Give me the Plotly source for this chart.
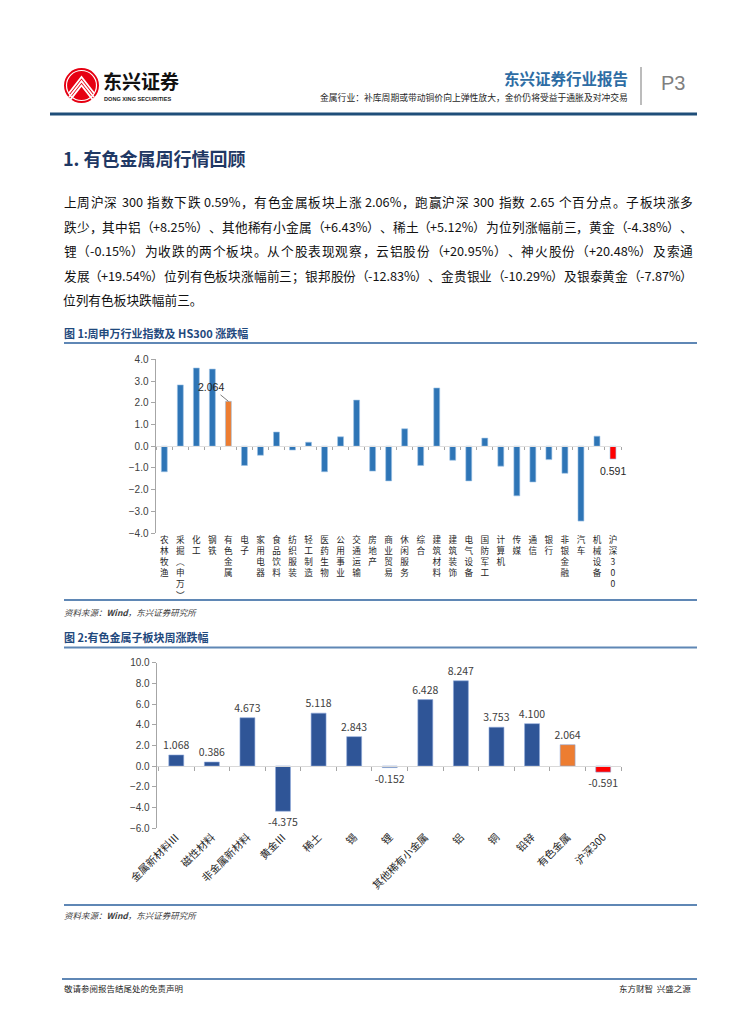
import plotly.graph_objects as go

W, H = 755, 1024

# ---------------- data ----------------
ind_names = ["农林牧渔", "采掘(申万)", "化工", "钢铁", "有色金属", "电子", "家用电器", "食品饮料",
             "纺织服装", "轻工制造", "医药生物", "公用事业", "交通运输", "房地产", "商业贸易",
             "休闲服务", "综合", "建筑材料", "建筑装饰", "电气设备", "国防军工", "计算机", "传媒",
             "通信", "银行", "非银金融", "汽车", "机械设备", "沪深300"]
ind_chg = [-1.18, 2.82, 3.60, 3.55, 2.064, -0.89, -0.42, 0.65, -0.18, 0.18, -1.18, 0.43, 2.12,
           -1.15, -1.60, 0.80, -0.89, 2.68, -0.65, -1.60, 0.37, -0.92, -2.29, -1.65, -0.62,
           -1.25, -3.45, 0.46, -0.591]

sub_names = ["金属新材料Ⅲ", "磁性材料", "非金属新材料", "黄金Ⅲ", "稀土", "锡", "锂",
             "其他稀有小金属", "铝", "铜", "铅锌", "有色金属", "沪深300"]
sub_chg = [1.068, 0.386, 4.673, -4.375, 5.118, 2.843, -0.152, 6.428, 8.247, 3.753, 4.100,
           2.064, -0.591]

y1_ticks = [4, 3, 2, 1, 0, -1, -2, -3, -4]
y2_ticks = [10, 8, 6, 4, 2, 0, -2, -4, -6]

header_title = "东兴证券行业报告"
header_sub = "金属行业：补库周期或带动铜价向上弹性放大，金价仍将受益于通胀及对冲交易"
section_title = "1. 有色金属周行情回顾"
para_lines = [
    "上周沪深 300 指数下跌 0.59%，有色金属板块上涨 2.06%，跑赢沪深 300 指数 2.65 个百分点。子板块涨多",
    "跌少，其中铝（+8.25%）、其他稀有小金属（+6.43%）、稀土（+5.12%）为位列涨幅前三，黄金（-4.38%）、",
    "锂（-0.15%）为收跌的两个板块。从个股表现观察，云铝股份（+20.95%）、神火股份（+20.48%）及索通",
    "发展（+19.54%）位列有色板块涨幅前三；银邦股份（-12.83%）、金贵银业（-10.29%）及银泰黄金（-7.87%）",
    "位列有色板块跌幅前三。",
]
fig1_title = "图 1:周申万行业指数及 HS300 涨跌幅"
fig2_title = "图 2:有色金属子板块周涨跌幅"
source_text = "<i>资料来源：<b>Wind</b>，东兴证券研究所</i>"
footer_left = "敬请参阅报告结尾处的免责声明"
footer_right = "东方财智  兴盛之源"

# ---------------- helpers ----------------
def px(x):
    return x / W

def py(y):
    return 1 - y / H

CJK = "Noto Sans CJK SC"
BLUE1, BLUE2, ORANGE, RED = "#2E75B6", "#2F5597", "#ED7D31", "#FF0000"
HIGHLIGHT, INDEX = "有色金属", "沪深300"


def vert(s):
    s = s.replace("(", "︵").replace(")", "︶")
    return "<br>".join(list(s))


def colors(names, base):
    return [RED if n == INDEX else ORANGE if n == HIGHLIGHT else base for n in names]


annotations = []
shapes = []


def txt(x, y, s, size, color="#000000", anchor="left", family=CJK):
    annotations.append(dict(x=px(x), y=py(y), xref="paper", yref="paper", text=s,
                            showarrow=False, xanchor=anchor, yanchor="middle",
                            font=dict(size=size, color=color, family=family)))


def hline(x0, x1, y, color, width):
    shapes.append(dict(type="line", xref="paper", yref="paper", x0=px(x0), x1=px(x1),
                       y0=py(y), y1=py(y), line=dict(color=color, width=width)))


LATIN_W = {".": 0.27, "%": 0.83, "-": 0.33, "+": 0.55}


def tokens(line):
    out, run = [], ""
    for ch in line:
        if ord(ch) < 128 and ch != " ":
            run += ch
            continue
        if run:
            out.append(run)
            run = ""
        out.append(ch)
    if run:
        out.append(run)
    return out


def tok_width(t, size):
    if t == " ":
        return 0.25 * size
    if ord(t[0]) >= 128:
        return size * 1.0
    return sum(LATIN_W.get(c, 0.55) for c in t) * size


def justified(line, x0, x1, y, size, color):
    toks = tokens(line)
    widths = [tok_width(t, size) for t in toks]
    extra = (x1 - x0 - sum(widths)) / max(len(toks) - 1, 1)
    x = x0
    for t, w in zip(toks, widths):
        if t != " ":
            annotations.append(dict(x=px(x + w / 2), y=py(y), xref="paper", yref="paper",
                                    text=t, showarrow=False, xanchor="center",
                                    yanchor="middle",
                                    font=dict(size=size, color=color, family=CJK)))
        x += w + extra


# ---------------- figure ----------------
fig = go.Figure()

# chart 1
fig.add_trace(go.Scatter(x=ind_names, y=ind_chg, xaxis="x", yaxis="y", mode="markers",
                         marker=dict(opacity=0), hoverinfo="skip", showlegend=False))
fig.add_trace(go.Bar(x=ind_names, y=ind_chg, xaxis="x3", yaxis="y", width=0.37,
                     marker=dict(color=colors(ind_names, BLUE1),
                                 line=dict(width=0.6, color="#9DC3E6")),
                     showlegend=False))
# chart 2
fig.add_trace(go.Scatter(x=sub_names, y=sub_chg, xaxis="x2", yaxis="y2", mode="markers",
                         marker=dict(opacity=0), hoverinfo="skip", showlegend=False))
fig.add_trace(go.Bar(x=sub_names, y=sub_chg, xaxis="x4", yaxis="y2", width=0.42,
                     marker=dict(color=colors(sub_names, BLUE2),
                                 line=dict(width=0.6, color="#8FAADC")),
                     texttemplate="%{y:.3f}", textposition="outside", constraintext="none",
                     cliponaxis=False, textfont=dict(size=10.5, color="#404040", family=CJK),
                     showlegend=False))

c1_x = [px(155.5), px(621)]
c1_y = [py(533), py(359.3)]
c2_x = [px(156.7), px(621)]
c2_y = [py(828), py(662.7)]

yax_common = dict(ticks="outside", ticklen=4, tickcolor="#A6A6A6", showline=True,
                  linecolor="#A6A6A6", linewidth=1, showgrid=False, zeroline=False,
                  tickformat=".1f", tickmode="array",
                  tickfont=dict(size=10, color="#404040", family="Liberation Sans"))

fig.update_layout(
    width=W, height=H, template="none",
    margin=dict(l=0, r=0, t=0, b=0),
    paper_bgcolor="white", plot_bgcolor="rgba(0,0,0,0)",
    font=dict(family=CJK, color="#000000"),
    xaxis=dict(domain=c1_x, anchor="y", type="category", categoryorder="array",
               categoryarray=ind_names, range=[-0.55, len(ind_names) - 0.5],
               tickmode="array", tickvals=ind_names, ticktext=[vert(n) for n in ind_names],
               tickfont=dict(size=8.6, color="#262626", family=CJK), ticks="",
               showline=False, showgrid=False, zeroline=False),
    xaxis3=dict(overlaying="x", anchor="free", position=py(446), type="category",
                categoryorder="array", categoryarray=ind_names,
                range=[-0.55, len(ind_names) - 0.5], showticklabels=False, ticks="outside",
                tickson="boundaries", ticklen=3, tickcolor="#A6A6A6", showline=True,
                linecolor="#E0E0E0", linewidth=1, showgrid=False, zeroline=False),
    yaxis=dict(domain=c1_y, anchor="x", range=[-4, 4], tickvals=y1_ticks, **yax_common),
    xaxis2=dict(domain=c2_x, anchor="y2", type="category", categoryorder="array",
                categoryarray=sub_names, range=[-0.55, len(sub_names) - 0.5],
                tickangle=-45, tickfont=dict(size=10.5, color="#262626", family=CJK),
                ticks="", showline=False, showgrid=False, zeroline=False),
    xaxis4=dict(overlaying="x2", anchor="free", position=py(766), type="category",
                categoryorder="array", categoryarray=sub_names,
                range=[-0.55, len(sub_names) - 0.5], showticklabels=False, ticks="outside",
                tickson="boundaries", ticklen=4, tickcolor="#A6A6A6", showline=True,
                linecolor="#D9D9D9", linewidth=1, showgrid=False, zeroline=False),
    yaxis2=dict(domain=c2_y, anchor="x2", range=[-6, 10], tickvals=y2_ticks, **yax_common),
)

# chart 1 data labels
hi = ind_names.index(HIGHLIGHT)
annotations.append(dict(x=ind_names[hi], y=ind_chg[hi], xref="x3", yref="y",
                        text=f"{ind_chg[hi]:.3f}", showarrow=True, arrowhead=0,
                        arrowwidth=0.8, arrowcolor="#595959", ax=-17, ay=-14,
                        font=dict(size=10.5, color="#262626", family="Liberation Sans")))
ii = ind_names.index(INDEX)
annotations.append(dict(x=ind_names[ii], y=ind_chg[ii], xref="x3", yref="y",
                        text=f"{abs(ind_chg[ii]):.3f}", showarrow=False, yanchor="top",
                        yshift=-4,
                        font=dict(size=10.5, color="#262626", family="Liberation Sans")))

# ---------------- header ----------------
shapes.append(dict(type="circle", xref="paper", yref="paper", x0=px(64), x1=px(99),
                   y0=py(103), y1=py(68), fillcolor="#E60012", line=dict(width=0)))
for k in range(3):
    d = 4.2 * k
    shapes.append(dict(type="path", xref="paper", yref="paper",
                       path=f"M {px(69)},{py(93 + d)} L {px(81.5)},{py(77 + d)} L {px(94)},{py(93 + d)}",
                       line=dict(color="white", width=1.8)))
shapes.append(dict(type="circle", xref="paper", yref="paper", x0=px(66.5), x1=px(96.5),
                   y0=py(100.5), y1=py(70.5), line=dict(color="white", width=1.2)))
txt(101, 80, "<b>东兴证券</b>", 19, "#111111")
txt(102, 99, "<b>DONG XING SECURITIES</b>", 5.6, "#222222", family="Liberation Sans")
txt(630, 78, f"<b>{header_title}</b>", 15.5, "#2E6DA4", anchor="right")
txt(630, 97, header_sub, 8.8, "#262626", anchor="right")
shapes.append(dict(type="line", xref="paper", yref="paper", x0=px(641), x1=px(641),
                   y0=py(67), y1=py(105), line=dict(color="#A6A6A6", width=1.5)))
txt(659, 83, "P3", 20, "#7F7F7F", family="Liberation Sans")
hline(50, 697, 114, "#1F4E79", 3)

# ---------------- body text ----------------
txt(61, 158, f"<b>{section_title}</b>", 18, "#1F3864")
for i, line in enumerate(para_lines):
    yy = 201.5 + 24.6 * i
    if i < len(para_lines) - 1:
        justified(line, 64, 693, yy, 12.7, "#111111")
    else:
        txt(61, yy, line, 12.7, "#111111")

txt(62, 333, f"<b>{fig1_title}</b>", 11, "#1F497D")
hline(64, 697, 343, "#5F87B5", 2)
hline(64, 697, 600, "#5F87B5", 2)
txt(62, 612, source_text, 8.5, "#404040")

txt(62, 637, f"<b>{fig2_title}</b>", 11, "#1F497D")
hline(64, 697, 647.5, "#5F87B5", 2)
hline(64, 697, 905, "#5F87B5", 2)
txt(62, 915, source_text, 8.5, "#404040")

# ---------------- footer ----------------
hline(62, 697, 979, "#5F87B5", 2)
txt(62, 988, footer_left, 8.5, "#262626")
txt(693, 988, footer_right, 8.5, "#262626", anchor="right")

fig.update_layout(annotations=annotations, shapes=shapes)

fig.write_html("out.html", config={"displayModeBar": False},
               post_script="document.body.style.margin='0';")
